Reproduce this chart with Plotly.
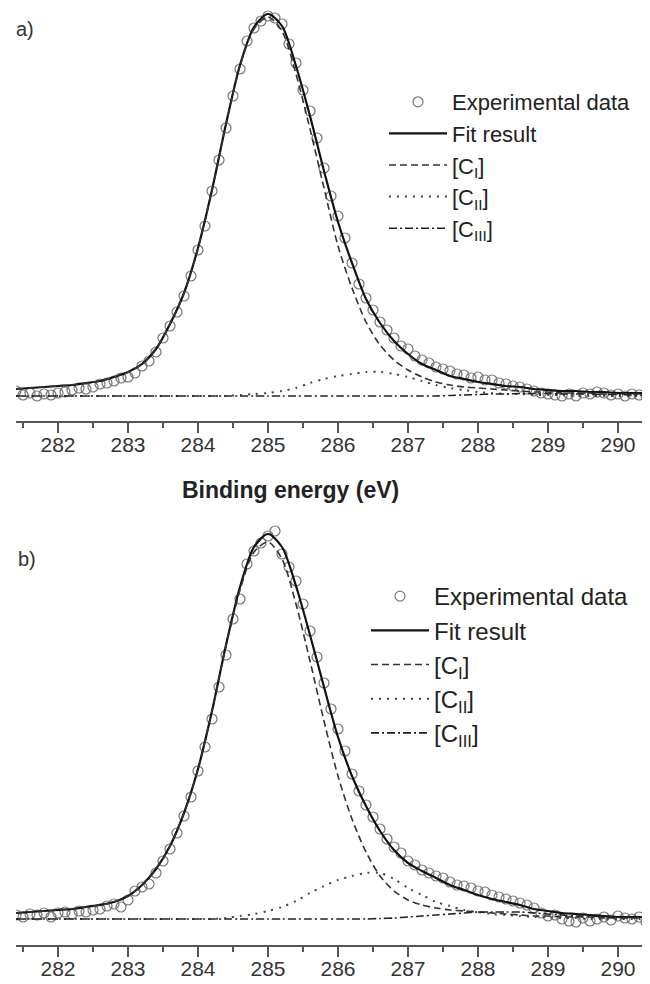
import plotly.graph_objects as go

# binding energy grids (eV): measured points every 0.1 eV, fitted curves every 0.2 eV
E_DATA = [281.4, 281.5, 281.6, 281.7, 281.8, 281.9, 282.0, 282.1, 282.2, 282.3,
          282.4, 282.5, 282.6, 282.7, 282.8, 282.9, 283.0, 283.1, 283.2, 283.3,
          283.4, 283.5, 283.6, 283.7, 283.8, 283.9, 284.0, 284.1, 284.2, 284.3,
          284.4, 284.5, 284.6, 284.7, 284.8, 284.9, 285.0, 285.1, 285.2, 285.3,
          285.4, 285.5, 285.6, 285.7, 285.8, 285.9, 286.0, 286.1, 286.2, 286.3,
          286.4, 286.5, 286.6, 286.7, 286.8, 286.9, 287.0, 287.1, 287.2, 287.3,
          287.4, 287.5, 287.6, 287.7, 287.8, 287.9, 288.0, 288.1, 288.2, 288.3,
          288.4, 288.5, 288.6, 288.7, 288.8, 288.9, 289.0, 289.1, 289.2, 289.3,
          289.4, 289.5, 289.6, 289.7, 289.8, 289.9, 290.0, 290.1, 290.2, 290.3,
          290.4]
E_FIT = [281.4, 281.6, 281.8, 282.0, 282.2, 282.4, 282.6, 282.8, 283.0, 283.2,
         283.4, 283.6, 283.8, 284.0, 284.2, 284.4, 284.6, 284.8, 285.0, 285.2,
         285.4, 285.6, 285.8, 286.0, 286.2, 286.4, 286.6, 286.8, 287.0, 287.2,
         287.4, 287.6, 287.8, 288.0, 288.2, 288.4, 288.6, 288.8, 289.0, 289.2,
         289.4, 289.6, 289.8, 290.0, 290.2, 290.4]

# panel a) intensities (a.u.)
a_exp = [5, 1, 3, 0, 2, 1, 3, 4, 6, 8,
         7, 9, 12, 13, 15, 18, 19, 23, 30, 35,
         44, 58, 70, 84, 100, 120, 146, 170, 205, 236,
         268, 300, 327, 355, 368, 375, 380, 378, 372, 352,
         333, 306, 285, 258, 228, 200, 180, 158, 133, 112,
         98, 86, 74, 66, 58, 50, 47, 40, 36, 33,
         29, 27, 25, 22, 21, 18, 19, 16, 16, 13,
         12, 10, 9, 7, 5, 3, 2, 1, 0, 2,
         0, 3, 2, 4, 3, 1, 2, 0, 2, 1,
         0]
a_fit = [7, 8, 9, 10, 11, 13, 15, 19, 24, 32,
         47, 72, 103, 148, 206, 272, 331, 369, 382, 370,
         330, 280, 225, 174, 133, 97, 73, 55, 42, 32,
         26, 20, 17, 14, 12, 10, 9, 7, 6, 5,
         5, 4, 4, 3, 3, 3]
a_c1 = [7, 8, 9, 10, 11, 13, 15, 19, 24, 32,
        47, 72, 103, 148, 206, 272, 330, 367, 379, 365,
        322, 267, 208, 150, 108, 74, 51, 36, 26, 19,
        14, 11, 9, 8, 7, 6, 5, 4, 4, 3,
        3, 3, 2, 2, 2, 2]
a_c2 = [0, 0, 0, 0, 0, 0, 0, 0, 0, 0,
        0, 0, 0, 0, 0, 0, 1, 2, 3, 5,
        8, 13, 17, 20, 22, 24, 24, 22, 19, 15,
        11, 8, 6, 4, 3, 2, 2, 1, 1, 1,
        0, 0, 0, 0, 0, 0]
a_c3 = [0, 0, 0, 0, 0, 0, 0, 0, 0, 0,
        0, 0, 0, 0, 0, 0, 0, 0, 0, 0,
        0, 0, 0, 0, 0, 0, 0, 0, 0, 0,
        0, 0.5, 1, 1.5, 2, 2, 2.5, 2.5, 2.5, 2,
        2, 2, 1.5, 1.5, 1, 1]

# panel b) intensities (a.u.)
b_exp = [4, 2, 5, 4, 6, 2, 6, 7, 5, 8,
         7, 9, 10, 13, 15, 12, 19, 28, 32, 35,
         46, 58, 70, 86, 103, 122, 148, 172, 200, 232,
         264, 300, 320, 355, 368, 376, 383, 388, 365, 352,
         338, 315, 288, 262, 236, 210, 190, 168, 145, 128,
         114, 102, 90, 80, 72, 66, 58, 54, 49, 46,
         43, 41, 37, 34, 33, 31, 28, 27, 24, 22,
         20, 18, 16, 14, 11, 6, 3, 4, 0, -2,
         -3, 1, -2, 0, 2, -1, 3, 1, 0, 2,
         -3]
b_fit = [6, 7, 8, 9, 10, 12, 14, 17, 23, 34,
         50, 73, 106, 150, 208, 274, 332, 372, 385, 372,
         333, 284, 232, 182, 143, 113, 88, 69, 56, 48,
         41, 34, 29, 24, 20, 17, 14, 10, 8, 6,
         5, 4, 3, 2, 2, 2]
b_c1 = [6, 7, 8, 9, 10, 12, 14, 17, 23, 34,
        50, 73, 106, 150, 208, 273, 329, 367, 377, 360,
        315, 258, 198, 143, 100, 67, 43, 28, 19, 14,
        11, 9, 8, 7, 6, 5, 4, 3, 3, 2,
        2, 2, 1, 1, 1, 1]
b_c2 = [0, 0, 0, 0, 0, 0, 0, 0, 0, 0,
        0, 0, 0, 0, 0, 1, 3, 5, 8, 12,
        18, 26, 33, 39, 43, 46, 46, 40, 31, 24,
        17, 13, 9, 7, 5, 4, 3, 2, 2, 1,
        1, 0, 0, 0, 0, 0]
b_c3 = [0, 0, 0, 0, 0, 0, 0, 0, 0, 0,
        0, 0, 0, 0, 0, 0, 0, 0, 0, 0,
        0, 0, 0, 0, 0, 0, 0.5, 1, 2, 3,
        4, 5, 6, 7, 7, 7, 7, 6, 5, 4,
        3, 3, 2, 2, 2, 2]

LABELS = ["Experimental data", "Fit result", "[C<sub>I</sub>]",
          "[C<sub>II</sub>]", "[C<sub>III</sub>]"]

# the page body has an 8px margin, so the figure sits at (8, 8) in the window
OFF = 8
W, H = 650 - OFF, 984 - OFF
ML, MR, MT, MB = 8, 4, 0, 39
PW, PH = W - ML - MR, H - MT - MB
FONT = "Liberation Sans, Arial"


def px(x):
    # window pixel -> paper x
    return (x - OFF - ML) / PW


def py(y):
    # window pixel -> paper y
    return (H - MB - (y - OFF)) / PH


fig = go.Figure()

styles = [
    dict(color="#111111", width=2.2),
    dict(color="#333333", width=1.6, dash="7px,4px"),
    dict(color="#444444", width=2, dash="2px,6px"),
    dict(color="#222222", width=1.6, dash="8px,3px,2px,3px"),
]

for exp, curves, xa, ya, lg in [
    (a_exp, [a_fit, a_c1, a_c2, a_c3], "x", "y", "legend"),
    (b_exp, [b_fit, b_c1, b_c2, b_c3], "x2", "y2", "legend2"),
]:
    fig.add_trace(go.Scatter(
        x=E_DATA, y=exp, mode="markers", name=LABELS[0],
        marker=dict(symbol="circle-open", size=10, color="#777777",
                    line=dict(width=1.2)),
        xaxis=xa, yaxis=ya, legend=lg))
    for vals, name, st in zip(curves, LABELS[1:], styles):
        fig.add_trace(go.Scatter(
            x=E_FIT, y=vals, mode="lines", name=name,
            line=dict(shape="spline", smoothing=0.8, **st),
            xaxis=xa, yaxis=ya, legend=lg))

xcommon = dict(
    range=[281.4, 290.4], tickvals=list(range(282, 291)), automargin=False,
    showline=True, linecolor="#555555", linewidth=2,
    ticks="outside", ticklen=10, tickwidth=1.5, tickcolor="#555555",
    ticklabelstandoff=-6,
    minor=dict(dtick=0.5, tick0=281.5, ticks="outside", ticklen=5,
               tickwidth=1.5, tickcolor="#555555"),
    showgrid=False, zeroline=False,
    tickfont=dict(family=FONT, size=21, color="#333333"),
)
ycommon = dict(visible=False, showgrid=False, zeroline=False, automargin=False)

legcommon = dict(
    bgcolor="rgba(0,0,0,0)", itemwidth=58, tracegroupgap=0,
    xanchor="left", yanchor="top",
)


def label(text, x, y, size, color):
    return dict(text=text, x=px(x), y=py(y), xref="paper", yref="paper",
                xanchor="center", yanchor="middle", showarrow=False,
                font=dict(family=FONT, size=size, color=color))


fig.update_layout(
    width=W, height=H,
    margin=dict(l=ML, r=MR, t=MT, b=MB, autoexpand=False),
    paper_bgcolor="white", plot_bgcolor="white",
    xaxis=dict(anchor="y", domain=[0, 1], **xcommon),
    yaxis=dict(domain=[py(421), 1.0], range=[-25, 388], **ycommon),
    xaxis2=dict(anchor="y2", domain=[0, 1], **xcommon),
    yaxis2=dict(domain=[0, py(520)], range=[-26, 399], **ycommon),
    legend=dict(x=px(384), y=py(81),
                font=dict(family=FONT, size=22, color="#222222"), **legcommon),
    legend2=dict(x=px(366), y=py(574),
                 font=dict(family=FONT, size=24, color="#222222"), **legcommon),
    annotations=[
        label("<b>Binding energy (eV)</b>", 290, 490, 23, "#222222"),
        label("a)", 25, 29, 20, "#333333"),
        label("b)", 27, 559, 20, "#333333"),
    ],
)

fig.write_html("out.html")
